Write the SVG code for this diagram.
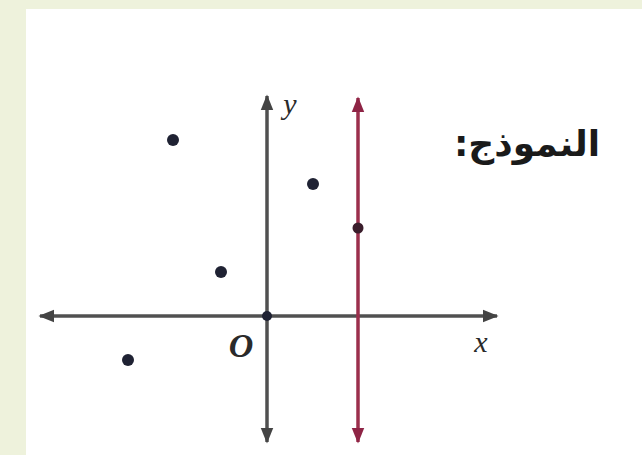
<svg xmlns="http://www.w3.org/2000/svg" width="642" height="455" viewBox="0 0 642 455">
<style>
.axis{stroke:#505050;stroke-width:3.5;fill:none}
.red{stroke:#9b2f4c;stroke-width:3.5;fill:none}
.dot{fill:#1f2233}
.lbl{font-family:"Liberation Serif",serif;font-style:italic;fill:#2a2a2a}
.ar{font-family:"DejaVu Sans",sans-serif;font-weight:bold;font-size:36px;fill:#1a1a1a}
</style>
<defs>
<marker id="ag" viewBox="0 0 10 10" refX="9" refY="5" markerWidth="4.5" markerHeight="4.5" orient="auto-start-reverse" markerUnits="strokeWidth">
<path d="M0,1 L10,5 L0,9 z" fill="#444"/>
</marker>
<marker id="ar" viewBox="0 0 10 10" refX="9" refY="5" markerWidth="4.5" markerHeight="4.5" orient="auto-start-reverse" markerUnits="strokeWidth">
<path d="M0,1 L10,5 L0,9 z" fill="#8e2445"/>
</marker>
</defs>
<rect x="0" y="0" width="642" height="455" fill="#eef2dc"/>
<rect x="26" y="9" width="616" height="446" fill="#ffffff"/>
<g id="connectors">
<line class="axis" x1="40" y1="316" x2="497" y2="316" marker-start="url(#ag)" marker-end="url(#ag)"/>
<line class="axis" x1="267" y1="96" x2="267" y2="442" marker-start="url(#ag)" marker-end="url(#ag)"/>
<line class="red" x1="358" y1="98" x2="358" y2="442" marker-start="url(#ar)" marker-end="url(#ar)"/>
</g>
<g id="labels">
<text class="lbl" x="241" y="357" font-size="34" font-weight="bold" text-anchor="middle">O</text>
<text class="lbl" x="481" y="352" font-size="30" text-anchor="middle">x</text>
<text class="lbl" x="290" y="114" font-size="30" text-anchor="middle">y</text>
</g>
<g id="title">
<text class="ar" x="600" y="156" direction="rtl" text-anchor="start">النموذج:</text>
</g>
<g id="points">
<circle class="dot" cx="173" cy="140" r="6"/>
<circle class="dot" cx="313" cy="184" r="6"/>
<circle class="dot" cx="221" cy="272" r="6"/>
<circle class="dot" cx="128" cy="360" r="6"/>
<circle class="dot" cx="267" cy="316" r="5"/>
<circle cx="358" cy="228" r="5.5" fill="#3a1d2b"/>
</g>
</svg>
